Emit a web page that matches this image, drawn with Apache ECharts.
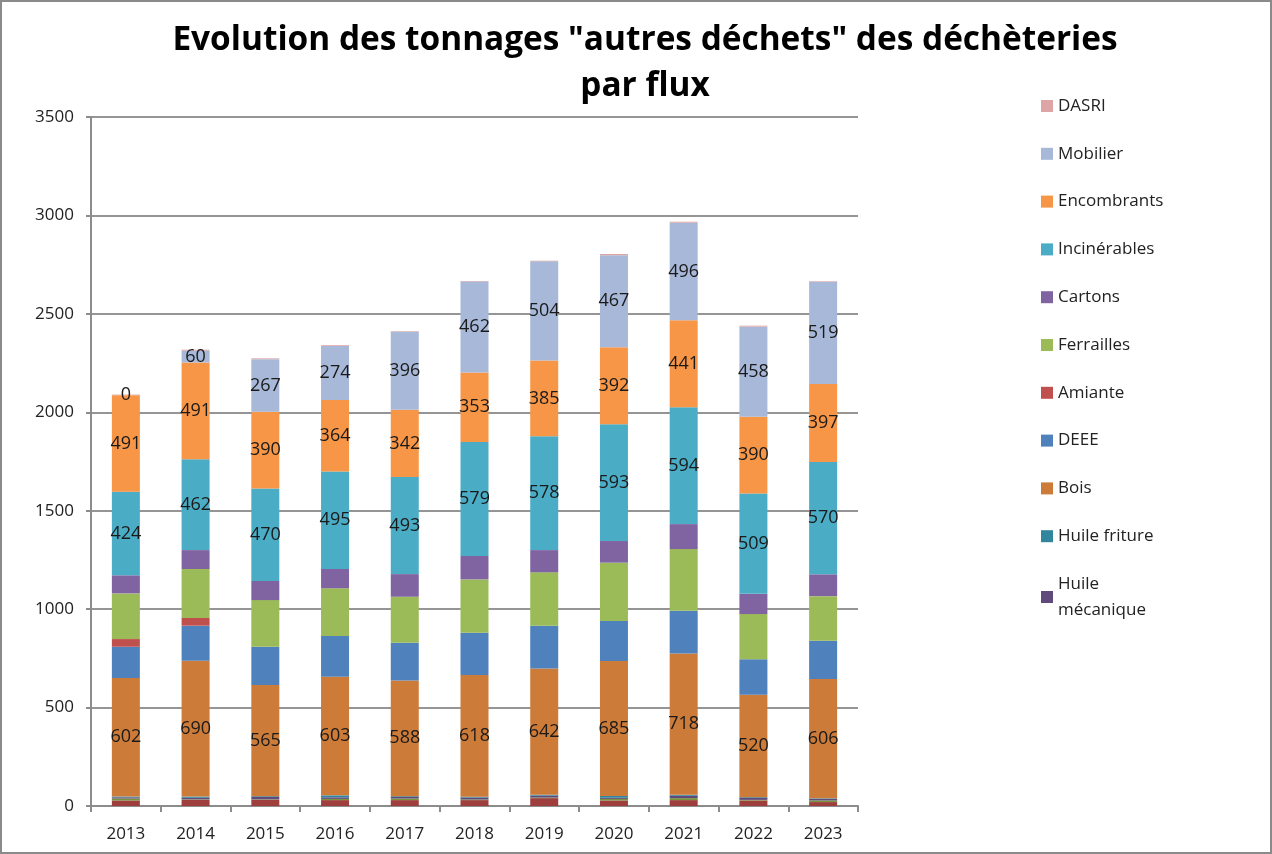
<!DOCTYPE html>
<html>
<head>
<meta charset="utf-8">
<script src="https://cdn.jsdelivr.net/npm/echarts@6/dist/echarts.min.js"></script>
<style>
  html, body { margin: 0; padding: 0; background: #fff; }
  .cadre { width: 1272px; height: 854px; box-sizing: border-box; border: 2px solid #8a8a8a; }
  #chart { width: 1268px; height: 850px; }
</style>
</head>
<body>
<div class="cadre"><div id="chart"></div></div>
<script>
// annees
var years = ['2013', '2014', '2015', '2016', '2017', '2018', '2019', '2020', '2021', '2022', '2023'];

// flux sans entree de legende (bas de pile)
var autre1 = [28, 32, 32, 30, 30, 30, 40, 28, 30, 28, 20];
var autre2 = [10, 2, 2, 6, 8, 3, 3, 8, 10, 3, 8];

// tonnages par flux
var huileMeca = [6, 8, 12, 8, 8, 10, 10, 6, 12, 10, 8];
var huileFriture = [4, 6, 4, 10, 4, 4, 4, 9, 5, 4, 3];
var bois = [602, 690, 565, 603, 588, 618, 642, 685, 718, 520, 606];
var deee = [159, 178, 194, 206, 191, 215, 217, 204, 217, 180, 195];
var amiante = [39, 39, 0, 0, 0, 0, 0, 0, 0, 0, 0];
var ferrailles = [232, 249, 237, 243, 234, 271, 271, 296, 313, 230, 226];
var cartons = [92, 96, 97, 98, 115, 119, 113, 110, 127, 103, 111];
var incinerables = [424, 462, 470, 495, 493, 579, 578, 593, 594, 509, 570];
var encombrants = [491, 491, 390, 364, 342, 353, 385, 392, 441, 390, 397];
var mobilier = [0, 60, 267, 274, 396, 462, 504, 467, 496, 458, 519];
var dasri = [3, 5, 4, 4, 3, 3, 3, 6, 5, 5, 3];

var police = '"Open Sans", "Noto Sans", sans-serif';

function serie(nom, data, couleur, etiquette) {
  return {
    name: nom,
    type: 'bar',
    stack: 'total',
    barWidth: 28,
    data: data,
    itemStyle: { color: couleur },
    label: {
      show: !!etiquette,
      position: 'inside',
      color: '#1a1a1a',
      fontSize: 18,
      fontFamily: police,
      textBorderWidth: 0
    },
    emphasis: { disabled: true }
  };
}

var myChart = echarts.init(document.getElementById('chart'));
var option = {
  animation: false,
  title: {
    text: 'Evolution des tonnages "autres déchets" des déchèteries\npar flux',
    left: 638,
    textAlign: 'center',
    top: 10,
    padding: 5,
    textStyle: {
      fontFamily: police,
      fontWeight: 'bold',
      fontSize: 33.4,
      lineHeight: 46,
      color: '#000'
    }
  },
  legend: {
    orient: 'vertical',
    left: 1034,
    top: 86,
    itemWidth: 12,
    itemHeight: 12,
    itemGap: 21.8,
    icon: 'rect',
    data: ['DASRI', 'Mobilier', 'Encombrants', 'Incinérables', 'Cartons', 'Ferrailles',
           'Amiante', 'DEEE', 'Bois', 'Huile friture', 'Huile mécanique'],
    formatter: function (name) {
      return name === 'Huile mécanique' ? 'Huile\nmécanique' : name;
    },
    textStyle: {
      fontFamily: police,
      fontSize: 17,
      lineHeight: 26,
      color: '#222'
    }
  },
  grid: {
    left: 89,
    right: 412,
    top: 115,
    bottom: 46
  },
  xAxis: {
    type: 'category',
    data: years,
    axisLine: { lineStyle: { color: '#8c8c8c', width: 2 } },
    axisTick: { show: true, interval: 0, length: 6, lineStyle: { color: '#8c8c8c', width: 2 } },
    axisLabel: { color: '#222', fontSize: 17, fontFamily: police, margin: 20 }
  },
  yAxis: {
    type: 'value',
    min: 0,
    max: 3500,
    interval: 500,
    axisLine: { show: true, lineStyle: { color: '#8c8c8c', width: 2 } },
    axisTick: { show: true, length: 5, lineStyle: { color: '#8c8c8c', width: 2 } },
    axisLabel: {
      color: '#222', fontSize: 17, fontFamily: police, margin: 17,
      formatter: function (v) { return String(v); }
    },
    splitLine: { show: true, lineStyle: { color: '#959595', width: 2 } }
  },
  series: [
    serie('Autre 1', autre1, '#9E3F3D'),
    serie('Autre 2', autre2, '#77933C'),
    serie('Huile mécanique', huileMeca, '#604A7B'),
    serie('Huile friture', huileFriture, '#31859C'),
    serie('Bois', bois, '#CD7B38', true),
    serie('DEEE', deee, '#4F81BD'),
    serie('Amiante', amiante, '#C0504D'),
    serie('Ferrailles', ferrailles, '#9BBB59'),
    serie('Cartons', cartons, '#8064A2'),
    serie('Incinérables', incinerables, '#4BACC6', true),
    serie('Encombrants', encombrants, '#F79646', true),
    serie('Mobilier', mobilier, '#A7B8D9', true),
    serie('DASRI', dasri, '#DDA5A5')
  ]
};
myChart.setOption(option);
</script>
</body>
</html>
